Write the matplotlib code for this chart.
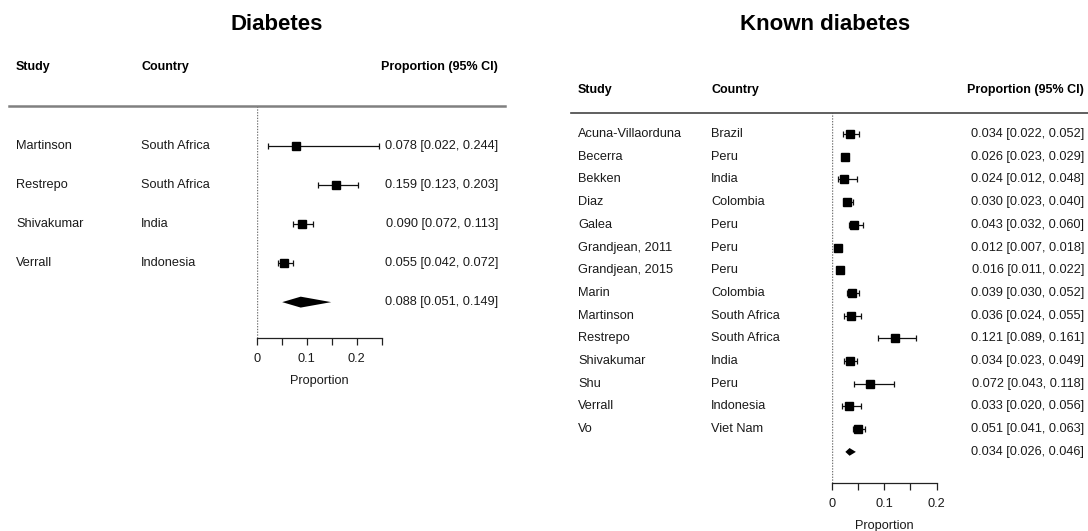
import matplotlib
matplotlib.use("Agg")
import matplotlib.pyplot as plt
from matplotlib.transforms import blended_transform_factory

plt.rcParams["font.family"] = ["Liberation Sans", "DejaVu Sans"]

W, H = 1088, 531

# ---- Diabetes ----
d_study = ["Martinson", "Restrepo", "Shivakumar", "Verrall"]
d_country = ["South Africa", "South Africa", "India", "Indonesia"]
d_est = [0.078, 0.159, 0.090, 0.055]
d_lo = [0.022, 0.123, 0.072, 0.042]
d_hi = [0.244, 0.203, 0.113, 0.072]
d_pooled = (0.088, 0.051, 0.149)

# ---- Known diabetes ----
k_study = ["Acuna-Villaorduna", "Becerra", "Bekken", "Diaz", "Galea",
           "Grandjean, 2011", "Grandjean, 2015", "Marin", "Martinson",
           "Restrepo", "Shivakumar", "Shu", "Verrall", "Vo"]
k_country = ["Brazil", "Peru", "India", "Colombia", "Peru", "Peru", "Peru",
             "Colombia", "South Africa", "South Africa", "India", "Peru",
             "Indonesia", "Viet Nam"]
k_est = [0.034, 0.026, 0.024, 0.030, 0.043, 0.012, 0.016, 0.039, 0.036,
         0.121, 0.034, 0.072, 0.033, 0.051]
k_lo = [0.022, 0.023, 0.012, 0.023, 0.032, 0.007, 0.011, 0.030, 0.024,
        0.089, 0.023, 0.043, 0.020, 0.041]
k_hi = [0.052, 0.029, 0.048, 0.040, 0.060, 0.018, 0.022, 0.052, 0.055,
        0.161, 0.049, 0.118, 0.056, 0.063]
k_pooled = (0.034, 0.026, 0.046)

major_ticks_d = [0, 0.1, 0.2]
minor_ticks_d = [0.05, 0.15, 0.25]
major_ticks_k = [0, 0.1, 0.2]
minor_ticks_k = [0.05, 0.15]

TXT = "#1a1a1a"

fig = plt.figure(figsize=(W / 100, H / 100), dpi=100)


def fx(px):
    return px / W


def fy(py):
    return 1 - py / H


def forest(ax_px, xlim, ylim, study, country, est, lo, hi, pooled,
           col_x, header_row, line_px, line_color, line_w,
           majors, minors, title, title_x, sq, dia_h, fs, hfs):
    x0, x1, ytop, ybot = ax_px
    ax = fig.add_axes([fx(x0), fy(ybot), fx(x1 - x0), (ybot - ytop) / H])
    ax.set_xlim(*xlim)
    ax.set_ylim(*ylim)
    ax.patch.set_alpha(0)
    for s in ("top", "right", "left"):
        ax.spines[s].set_visible(False)
    ax.spines["bottom"].set_linewidth(0.9)
    ax.spines["bottom"].set_color("#222222")
    ax.spines["bottom"].set_bounds(xlim[0], xlim[1])
    ax.set_yticks([])
    ax.set_xticks(majors)
    ax.set_xticklabels([f"{t:g}" for t in majors])
    ax.set_xticks(minors, minor=True)
    ax.tick_params(axis="x", which="both", length=5, width=0.9,
                   color="#222222", labelsize=fs, labelcolor=TXT, pad=6)
    ax.set_xlabel("Proportion", fontsize=fs, color=TXT, labelpad=7)

    n = len(study)
    rows = list(range(n))
    # reference line at zero
    ax.axvline(0, color="#777777", lw=1.0, ls=(0, (1, 1)), zorder=1)
    # study estimates
    ax.errorbar(est, rows, xerr=[[e - l for e, l in zip(est, lo)],
                                  [h - e for h, e in zip(hi, est)]],
                fmt="none", ecolor="#111111", elinewidth=0.9,
                capsize=2.2, capthick=0.9, zorder=2, clip_on=False)
    ax.plot(est, rows, ls="none", marker="s", ms=sq, color="black",
            zorder=3, clip_on=False)
    # pooled estimate diamond
    pe, pl, ph = pooled
    ax.fill([pl, pe, ph, pe], [n, n - dia_h, n, n + dia_h],
            color="black", lw=0, zorder=3, clip_on=False)

    tr = blended_transform_factory(fig.transFigure, ax.transData)
    sx, cx, rx = col_x
    for i in range(n):
        ax.text(fx(sx), i, study[i], transform=tr, fontsize=fs, color=TXT,
                va="center", ha="left")
        ax.text(fx(cx), i, country[i], transform=tr, fontsize=fs, color=TXT,
                va="center", ha="left")
        ax.text(fx(rx), i, f"{est[i]:.3f} [{lo[i]:.3f}, {hi[i]:.3f}]",
                transform=tr, fontsize=fs, color=TXT, va="center", ha="right")
    ax.text(fx(rx), n, f"{pe:.3f} [{pl:.3f}, {ph:.3f}]", transform=tr,
            fontsize=fs, color=TXT, va="center", ha="right")

    # column headers
    hdr = dict(transform=tr, fontsize=hfs, color="black", fontweight="bold",
               va="center")
    ax.text(fx(sx), header_row, "Study", ha="left", **hdr)
    ax.text(fx(cx), header_row, "Country", ha="left", **hdr)
    ax.text(fx(rx), header_row, "Proportion (95% CI)", ha="right", **hdr)

    lx0, lx1, ly = line_px
    fig.add_artist(plt.Line2D([fx(lx0), fx(lx1)], [fy(ly), fy(ly)],
                              color=line_color, lw=line_w))
    fig.text(fx(title_x), fy(25), title, fontsize=16, fontweight="bold",
             ha="center", va="center", color="black")
    return ax


forest((256.7, 381.7, 106, 338), (0, 0.25), (4.92, -1.03),
       d_study, d_country, d_est, d_lo, d_hi, d_pooled,
       (16, 141, 498), -2.03, (9, 505, 106), "#808080", 1.8,
       major_ticks_d, minor_ticks_d, "Diabetes", 277, 6.3, 0.14, 9.2, 9.0)

forest((831.7, 936.7, 113, 483), (0, 0.2), (15.37, -0.925),
       k_study, k_country, k_est, k_lo, k_hi, k_pooled,
       (578, 711, 1084), -1.94, (571, 1088, 113), "#444444", 1.2,
       major_ticks_k, minor_ticks_k, "Known diabetes", 825, 6.0, 0.17, 9.2, 9.0)

fig.savefig("out.png", dpi=100, facecolor="white")
